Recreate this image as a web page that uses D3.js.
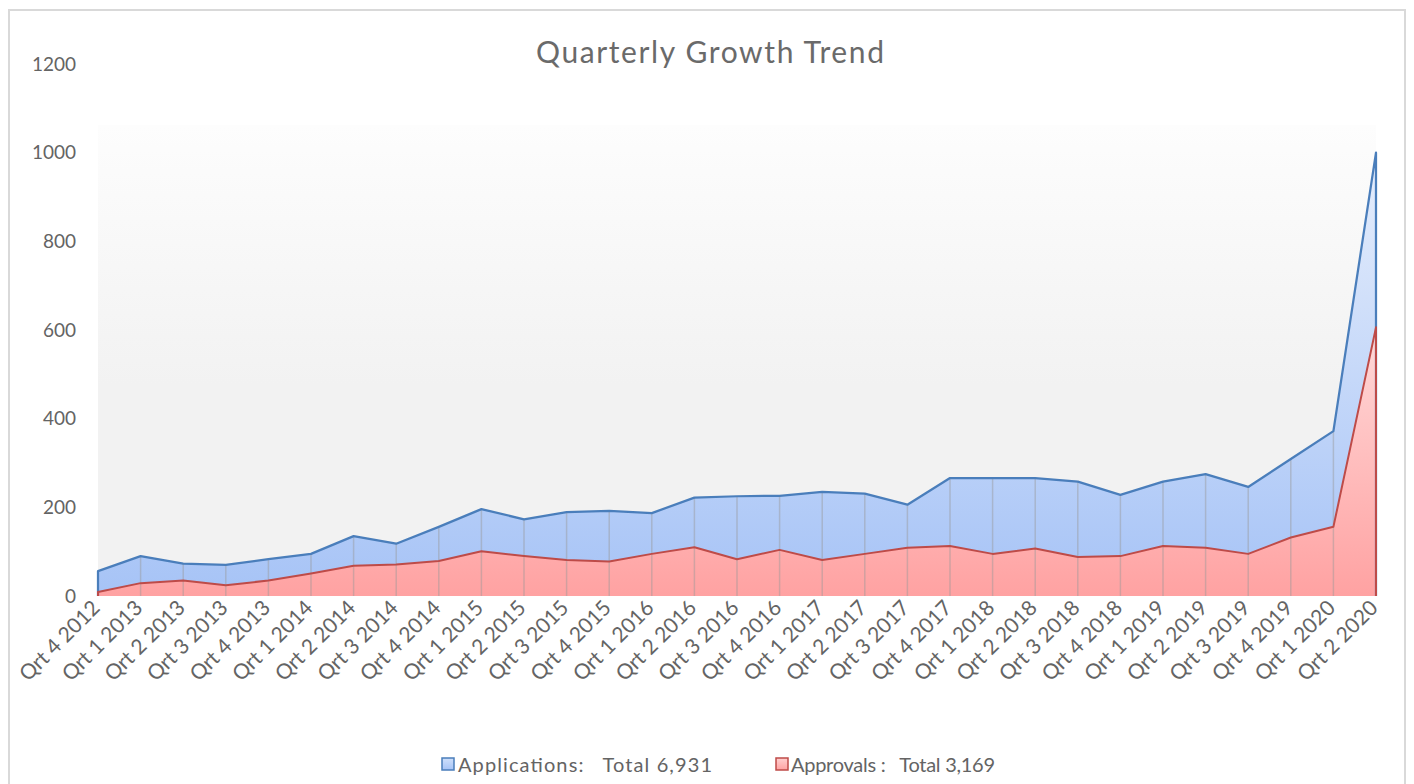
<!DOCTYPE html>
<html>
<head>
<meta charset="utf-8">
<script src="https://cdn.jsdelivr.net/npm/d3@7"></script>
<style>
  html, body { margin: 0; padding: 0; background: #ffffff; }
  svg { display: block; font-family: Lato, "Open Sans", sans-serif; }
</style>
</head>
<body>
<svg id="chart" width="1414" height="784"></svg>
<script>
// ---------- data ----------
const categories = [
  "Qrt 4 2012","Qrt 1 2013","Qrt 2 2013","Qrt 3 2013","Qrt 4 2013",
  "Qrt 1 2014","Qrt 2 2014","Qrt 3 2014","Qrt 4 2014",
  "Qrt 1 2015","Qrt 2 2015","Qrt 3 2015","Qrt 4 2015",
  "Qrt 1 2016","Qrt 2 2016","Qrt 3 2016","Qrt 4 2016",
  "Qrt 1 2017","Qrt 2 2017","Qrt 3 2017","Qrt 4 2017",
  "Qrt 1 2018","Qrt 2 2018","Qrt 3 2018","Qrt 4 2018",
  "Qrt 1 2019","Qrt 2 2019","Qrt 3 2019","Qrt 4 2019",
  "Qrt 1 2020","Qrt 2 2020"
];
const applications = [56,90,73,70,83,95,135,118,156,196,173,189,192,187,222,225,226,235,231,206,266,266,266,258,228,258,275,246,309,372,1000];
const approvals    = [9,29,35,24,35,51,68,71,79,101,90,81,78,95,110,83,104,81,95,109,113,95,107,88,90,113,109,95,132,156,606];
const yTicks = [0,200,400,600,800,1000,1200];
const legendLabels = ["Applications:   Total 6,931", "Approvals :   Total 3,169"];
const chartTitle = "Quarterly Growth Trend";

// ---------- layout ----------
const svg = d3.select("#chart");
const plotLeft = 98, plotRight = 1376, plotTop = 64, plotBottom = 596;
const textColor = "#646464";

const x = d3.scalePoint().domain(categories).range([plotLeft, plotRight]);
const y = d3.scaleLinear().domain([0, 1200]).range([plotBottom, plotTop]);

const defs = svg.append("defs");
function vGrad(id, stops) {
  const g = defs.append("linearGradient").attr("id", id)
    .attr("x1", 0).attr("y1", 0).attr("x2", 0).attr("y2", 1);
  stops.forEach(s => g.append("stop").attr("offset", s[0]).attr("stop-color", s[1]));
}
vGrad("bgGrad", [[0, "#fdfdfd"], [0.55, "#f2f2f2"], [1, "#f2f2f2"]]);
vGrad("blueGrad", [[0, "#e6eefc"], [1, "#a6c3f6"]]);
vGrad("redGrad", [[0, "#ffd9d9"], [1, "#ffa2a2"]]);
vGrad("blueLeg", [[0, "#cfe0fb"], [1, "#a6c3f6"]]);
vGrad("redLeg", [[0, "#ffd0d0"], [1, "#ffa2a2"]]);

// chart border
svg.append("rect").attr("x", 9).attr("y", 10).attr("width", 1396).attr("height", 800)
  .attr("fill", "#ffffff").attr("stroke", "#d9d9d9").attr("stroke-width", 2);

// plot background
svg.append("rect").attr("x", plotLeft).attr("y", 125)
  .attr("width", plotRight - plotLeft).attr("height", plotBottom - 125)
  .attr("fill", "url(#bgGrad)");

// title
svg.append("text").attr("x", 710).attr("y", 63).attr("text-anchor", "middle")
  .attr("font-size", 30).attr("fill", "#6a6a6a")
  .attr("textLength", 348).attr("lengthAdjust", "spacing")
  .text(chartTitle);

// y axis labels
const yAxis = d3.axisLeft(y).tickValues(yTicks).tickSize(0).tickPadding(0).tickFormat(d3.format("d"));
const gy = svg.append("g").attr("transform", `translate(${76},0)`).call(yAxis);
gy.select(".domain").remove();
gy.selectAll("text").attr("font-size", 19).attr("fill", textColor).attr("font-family", "Lato, sans-serif");

// areas
const area = vals => d3.area()
  .x((d, i) => x(categories[i]))
  .y0(y(0))
  .y1(d => y(d))(vals);

svg.append("path").attr("d", area(applications)).attr("fill", "url(#blueGrad)");
svg.append("path").attr("d", area(approvals)).attr("fill", "url(#redGrad)");

// drop lines
svg.append("g").selectAll("line").data(categories.slice(1, -1)).join("line")
  .attr("x1", d => x(d)).attr("x2", d => x(d))
  .attr("y1", y(0))
  .attr("y2", d => y(Math.max(applications[categories.indexOf(d)], approvals[categories.indexOf(d)])))
  .attr("stroke", "#9a9a9a").attr("stroke-opacity", 0.45).attr("stroke-width", 1.5);

// outline lines (top edge plus vertical end edges)
function outline(vals) {
  const pts = [[0, 0]].concat(vals.map((v, i) => [i, v])).concat([[vals.length - 1, 0]]);
  return d3.line().x(p => x(categories[p[0]])).y(p => y(p[1]))(pts);
}
svg.append("path").attr("d", outline(applications)).attr("fill", "none")
  .attr("stroke", "#4a7ebb").attr("stroke-width", 2.25).attr("stroke-linejoin", "round");
svg.append("path").attr("d", outline(approvals)).attr("fill", "none")
  .attr("stroke", "#be4b48").attr("stroke-width", 2).attr("stroke-linejoin", "round");

// x axis labels
svg.append("g").selectAll("text").data(categories).join("text")
  .attr("transform", d => `translate(${x(d) - 2},${604}) rotate(-45)`)
  .attr("text-anchor", "end").attr("dy", "0.35em")
  .attr("font-size", 21).attr("fill", textColor).text(d => d);

// legend
const legendItems = [
  {sq: 442, text: 458, width: 254, fill: "url(#blueLeg)", stroke: "#4a7ebb"},
  {sq: 776, text: 791, width: 204, fill: "url(#redLeg)", stroke: "#be4b48"}
];
const lg = svg.append("g");
legendItems.forEach((it, k) => {
  lg.append("rect").attr("x", it.sq).attr("y", 758).attr("width", 12).attr("height", 12)
    .attr("fill", it.fill).attr("stroke", it.stroke).attr("stroke-width", 1.5);
  lg.append("text").attr("x", it.text).attr("y", 772).attr("font-size", 20)
    .attr("fill", textColor).style("white-space", "pre")
    .attr("textLength", it.width).attr("lengthAdjust", "spacing")
    .text(legendLabels[k]);
});
</script>
</body>
</html>
